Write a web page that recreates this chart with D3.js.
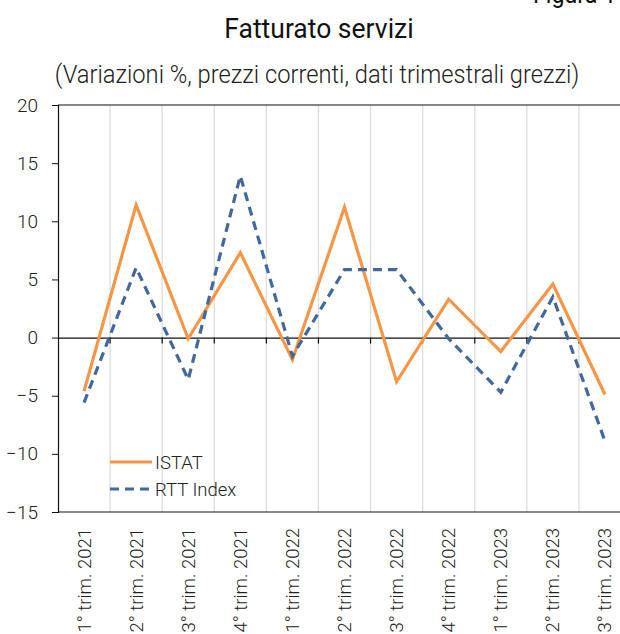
<!DOCTYPE html>
<html>
<head>
<meta charset="utf-8">
<script src="https://cdn.jsdelivr.net/npm/d3@7"></script>
<style>
  body { margin: 0; background: #fff; }
  svg { display: block; font-family: Roboto, "Noto Sans", sans-serif; }
</style>
</head>
<body>
<div id="chart"></div>
<script>
// Quarters and series values (% change)
const quarters = [
  '1° trim. 2021', '2° trim. 2021', '3° trim. 2021', '4° trim. 2021',
  '1° trim. 2022', '2° trim. 2022', '3° trim. 2022', '4° trim. 2022',
  '1° trim. 2023', '2° trim. 2023', '3° trim. 2023'
];
const istat = [-4.6, 11.4, -0.1, 7.3, -1.9, 11.2, -3.8, 3.3, -1.2, 4.6, -4.9];
const rtt = [-5.6, 6.0, -3.6, 13.9, -1.6, 5.85, 5.85, -0.1, -4.7, 3.5, -8.9];
const yTicks = [20, 15, 10, 5, 0, -5, -10, -15];

const width = 620, height = 634;
const margin = { top: 105, left: 58, bottom: 512 };
const plotRight = 631; // the original plot runs past the right edge

const svg = d3.select('#chart').append('svg')
  .attr('width', width)
  .attr('height', height);

// Titles (slightly narrowed, like the original)
svg.append('text')
  .attr('transform', 'translate(319,38) scale(0.93,1)')
  .attr('text-anchor', 'middle')
  .attr('font-size', 28.5)
  .attr('fill', '#111')
  .text('Fatturato servizi');

svg.append('text')
  .attr('transform', 'translate(317,83) scale(0.93,1)')
  .attr('text-anchor', 'middle')
  .attr('font-size', 25.5)
  .attr('font-weight', 300)
  .attr('fill', '#222')
  .text('(Variazioni %, prezzi correnti, dati trimestrali grezzi)');

svg.append('text')
  .attr('transform', 'translate(533,3) scale(0.93,1)')
  .attr('font-size', 25)
  .attr('fill', '#111')
  .text('Figura 1');

// Scales
const x = d3.scaleBand()
  .domain(quarters)
  .range([margin.left, plotRight])
  .padding(0);

const y = d3.scaleLinear()
  .domain([-15, 20])
  .range([margin.bottom, margin.top]);

const cx = d => x(d) + x.bandwidth() / 2;

// Vertical gridlines at category boundaries
svg.append('g')
  .selectAll('line')
  .data(quarters.slice(1))
  .join('line')
  .attr('x1', d => x(d)).attr('x2', d => x(d))
  .attr('y1', y(20)).attr('y2', y(-15))
  .attr('stroke', '#dcdcdc')
  .attr('stroke-width', 1.3);

// Frame: top and bottom borders
svg.append('line')
  .attr('x1', margin.left).attr('x2', plotRight)
  .attr('y1', y(20)).attr('y2', y(20))
  .attr('stroke', '#111').attr('stroke-width', 1.2);
svg.append('line')
  .attr('x1', margin.left).attr('x2', plotRight)
  .attr('y1', y(-15)).attr('y2', y(-15))
  .attr('stroke', '#111').attr('stroke-width', 1.2);

// Y axis
const yAxis = svg.append('g')
  .attr('transform', `translate(${margin.left},0)`)
  .call(d3.axisLeft(y).tickValues(yTicks).tickSize(6).tickPadding(14));
yAxis.select('.domain').attr('stroke', '#111').attr('stroke-width', 1.2);
yAxis.selectAll('.tick line').attr('stroke', '#111');
yAxis.selectAll('.tick text')
  .attr('font-size', 19)
  .attr('font-family', 'Roboto, sans-serif')
  .attr('font-weight', 300)
  .attr('fill', '#222');

// Zero line with category-boundary ticks
const xAxis = svg.append('g')
  .attr('transform', `translate(0,${y(0)})`)
  .call(d3.axisBottom(x).tickSize(0).tickFormat(''));
xAxis.select('.domain').attr('stroke', '#111').attr('stroke-width', 1.2);
xAxis.selectAll('.tick').remove();
xAxis.selectAll('.bnd')
  .data(quarters.slice(1))
  .join('line')
  .attr('class', 'bnd')
  .attr('x1', d => x(d)).attr('x2', d => x(d))
  .attr('y1', 0).attr('y2', 6)
  .attr('stroke', '#111').attr('stroke-width', 1.2);

// Category labels, rotated
svg.append('g')
  .selectAll('text')
  .data(quarters)
  .join('text')
  .attr('transform', d => `translate(${cx(d) + 6.5},528) rotate(-90)`)
  .attr('text-anchor', 'end')
  .attr('font-size', 18.5)
  .attr('font-weight', 300)
  .attr('fill', '#222')
  .text(d => d);

// Lines
const line = d3.line()
  .x((d, i) => cx(quarters[i]))
  .y(d => y(d));

svg.append('path')
  .datum(istat)
  .attr('d', line)
  .attr('fill', 'none')
  .attr('stroke', '#F79646')
  .attr('stroke-width', 3.2)
  .attr('stroke-linejoin', 'miter');

svg.append('path')
  .datum(rtt)
  .attr('d', line)
  .attr('fill', 'none')
  .attr('stroke', '#44689A')
  .attr('stroke-width', 3.2)
  .attr('stroke-dasharray', '9,6');

// Legend
const legend = [
  { name: 'ISTAT', color: '#F79646', dash: null, yy: 462 },
  { name: 'RTT Index', color: '#44689A', dash: '9,6', yy: 489 }
];
const lg = svg.append('g')
  .selectAll('g')
  .data(legend)
  .join('g');
lg.append('line')
  .attr('x1', 110).attr('x2', 152)
  .attr('y1', d => d.yy).attr('y2', d => d.yy)
  .attr('stroke', d => d.color)
  .attr('stroke-width', 3.2)
  .attr('stroke-dasharray', d => d.dash);
lg.append('text')
  .attr('x', 155)
  .attr('y', d => d.yy + 6.5)
  .attr('font-size', 18.5)
  .attr('font-weight', 300)
  .attr('fill', '#222')
  .text(d => d.name);
</script>
</body>
</html>
